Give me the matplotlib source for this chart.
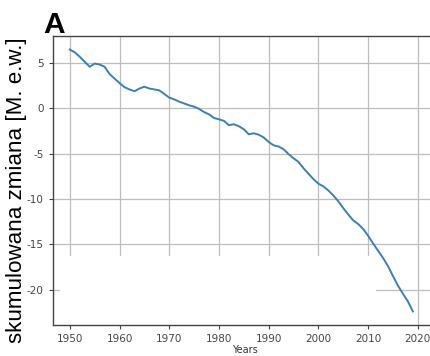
"""Cumulative mass balance curve (panel A)."""
import matplotlib
matplotlib.use('Agg')
import matplotlib.pyplot as plt
from matplotlib.patches import Rectangle

plt.rcParams['axes.unicode_minus'] = False

# values
years = list(range(1950, 2020))
cum_change = [6.5, 6.2, 5.7, 5.15, 4.6, 4.95, 4.85, 4.6, 3.8, 3.3,
              2.8, 2.35, 2.1, 1.9, 2.2, 2.4, 2.2, 2.1, 2.0, 1.6,
              1.2, 1.0, 0.75, 0.55, 0.35, 0.2, -0.05, -0.4, -0.65, -1.05,
              -1.2, -1.37, -1.85, -1.74, -1.96, -2.3, -2.85, -2.74, -2.9, -3.2,
              -3.7, -4.07, -4.2, -4.5, -5.04, -5.5, -5.9, -6.6, -7.2, -7.8,
              -8.3, -8.6, -9.05, -9.6, -10.25, -11.0, -11.7, -12.35, -12.75, -13.3,
              -14.05, -14.9, -15.7, -16.5, -17.4, -18.5, -19.55, -20.45, -21.3, -22.4]
xticks = [1950, 1960, 1970, 1980, 1990, 2000, 2010, 2020]
yticks = [-20, -15, -10, -5, 0, 5]

fig = plt.figure(figsize=(4.3, 3.56), dpi=100)
ax = fig.add_axes([0.123, 0.087, 0.895, 0.812])

ax.plot(years, cum_change, color='#3a80b5', linewidth=1.4, zorder=3)

ax.set_xlim(1946.6, 2024)
ax.set_ylim(-23.9, 8)
ax.set_xticks(xticks)
ax.set_yticks(yticks)
ax.set_axisbelow(True)
ax.grid(True, color='#bdbdbd', linewidth=0.9)

# white patch that hides part of the grid in the lower left
ax.add_patch(Rectangle((1948.0, -30), 2011.6 - 1948.0, 30 - 16.3,
                       facecolor='white', edgecolor='none', zorder=1))

for s in ['left', 'bottom', 'top']:
    ax.spines[s].set_color('#444444')
    ax.spines[s].set_linewidth(1.0)
ax.spines['right'].set_visible(False)
ax.tick_params(labelsize=7.5, colors='#444444', length=3, width=0.8)

ax.set_xlabel('Years', fontsize=7, color='#333333', labelpad=1)
fig.text(0.038, 0.466, 'skumulowana zmiana [M. e.w.]', fontsize=16.1,
         family='Liberation Sans', rotation=90, ha='center', va='center')
fig.text(0.1, 0.907, 'A', fontsize=21.5, fontweight='bold',
         family='Liberation Sans', ha='left', va='baseline')

fig.savefig('out.png', dpi=100)
print("Saved out.png")
